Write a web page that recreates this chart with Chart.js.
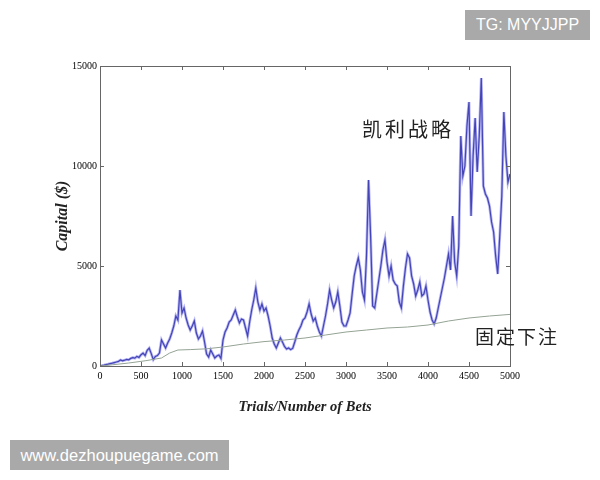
<!DOCTYPE html>
<html>
<head>
<meta charset="utf-8">
<script src="https://cdn.jsdelivr.net/npm/chart.js@4"></script>
<style>
  body { margin: 0; background: #fff; }
  #wrap { position: relative; width: 600px; height: 480px; }
  .tag { position: absolute; background: #a9a9a9; color: #fff; font-family: "Liberation Sans", Arial, sans-serif; font-size: 16px; line-height: 30px; text-align: center; }
  .note { position: absolute; font-family: "Noto Sans CJK SC", sans-serif; font-size: 20px; color: #222; letter-spacing: 3px; line-height: 1; white-space: nowrap; }
</style>
</head>
<body>
<div id="wrap">
  <canvas id="chart" width="600" height="480"></canvas>
  <div class="tag" style="left:465px;top:10px;width:125px;height:30px;">TG: MYYJJPP</div>
  <div class="tag" style="left:10px;top:440px;width:219px;height:30px;font-size:16.5px;">www.dezhoupuegame.com</div>
  <div class="note" style="left:362px;top:119px;">凯利战略</div>
  <div class="note" style="left:475px;top:326px;font-size:19px;letter-spacing:2px;">固定下注</div>
</div>
<script>
// data
const trials = [
  0, 25, 50, 75, 100, 125, 150, 175, 200, 225, 250, 275, 300, 325, 350, 375, 400, 425, 450, 475,
  500, 525, 550, 575, 600, 625, 650, 675, 700, 725, 750, 775, 800, 825, 850, 875, 900, 925, 950, 975,
  1000, 1025, 1050, 1075, 1100, 1125, 1150, 1175, 1200, 1225, 1250, 1275, 1300, 1325, 1350, 1375, 1400, 1425, 1450, 1475,
  1500, 1525, 1550, 1575, 1600, 1625, 1650, 1675, 1700, 1725, 1750, 1775, 1800, 1825, 1850, 1875, 1900, 1925, 1950, 1975,
  2000, 2025, 2050, 2075, 2100, 2125, 2150, 2175, 2200, 2225, 2250, 2275, 2300, 2325, 2350, 2375, 2400, 2425, 2450, 2475,
  2500, 2525, 2550, 2575, 2600, 2625, 2650, 2675, 2700, 2725, 2750, 2775, 2800, 2825, 2850, 2875, 2900, 2925, 2950, 2975,
  3000, 3025, 3050, 3075, 3100, 3125, 3150, 3175, 3200, 3225, 3250, 3275, 3300, 3325, 3350, 3375, 3400, 3425, 3450, 3475,
  3500, 3525, 3550, 3575, 3600, 3625, 3650, 3675, 3700, 3725, 3750, 3775, 3800, 3825, 3850, 3875, 3900, 3925, 3950, 3975,
  4000, 4025, 4050, 4075, 4100, 4125, 4150, 4175, 4200, 4225, 4250, 4275, 4300, 4325, 4350, 4375, 4400, 4425, 4450, 4475,
  4500, 4525, 4550, 4575, 4600, 4625, 4650, 4675, 4700, 4725, 4750, 4775, 4800, 4825, 4850, 4875, 4900, 4925, 4950, 4975,
  5000
];
const kelly = [
  0, 20, 40, 70, 90, 120, 140, 170, 200, 230, 300, 260, 290, 330, 310, 380, 420, 390, 480, 430,
  560, 640, 520, 780, 890, 620, 320, 480, 520, 650, 1300, 1100, 900, 1150, 1350, 1650, 2000, 2500, 2300, 3800,
  2650, 2900, 2400, 2050, 1800, 2000, 2250, 1650, 1350, 1500, 1750, 1200, 600, 450, 800, 600, 400, 500, 550, 380,
  1300, 1700, 1900, 2200, 2300, 2550, 2800, 2450, 2150, 2350, 2300, 1900, 1500, 2200, 2800, 3300, 3900, 3200, 2800, 3100,
  2750, 2900, 2500, 2000, 1400, 1100, 900, 1150, 1400, 1200, 980, 850, 900, 820, 880, 1200, 1550, 1800, 2000, 2300,
  2400, 2700, 3100, 2600, 2250, 2400, 2000, 1700, 1500, 2000, 2500, 3100, 3800, 3300, 2900, 3200, 3700, 3000, 2200, 2000,
  2000, 2300, 2650, 3600, 4500, 5000, 5400, 4800, 3700, 3300, 5500, 9300, 6500, 3000, 2900, 3600, 4300, 5000, 5800, 6300,
  5200, 4500, 5000, 4300, 4100, 4000, 3200, 2900, 4000, 4900, 5600, 5400, 4500, 4100, 3500, 3800, 4200, 3500, 3600, 4000,
  3300, 2700, 2300, 2100, 2400, 2900, 3400, 3900, 4400, 5000, 5600, 4800, 7500, 5200, 4500, 6000, 11500, 9500, 10000, 12000,
  13200, 7500, 10500, 12400, 9700, 11500, 14400, 9000, 8600, 8400, 8000, 7200, 6700, 5500, 4600, 6500, 8500, 12700, 10500, 9200,
  9600
];
const fixedTrials = [0, 150, 350, 550, 750, 850, 950, 1100, 1300, 1500, 1750, 2000, 2250, 2500, 2750, 3000, 3250, 3500, 3750, 4000, 4250, 4500, 4750, 5000];
const fixedBet = [0, 60, 150, 260, 400, 650, 800, 820, 860, 950, 1100, 1220, 1300, 1400, 1550, 1700, 1800, 1900, 1950, 2050, 2250, 2400, 2500, 2580];
const xTicks = [0, 500, 1000, 1500, 2000, 2500, 3000, 3500, 4000, 4500, 5000];
const yTicks = [0, 5000, 10000, 15000];

const kellyPts = trials.map((t, i) => ({ x: t, y: kelly[i] }));
const fixedPts = fixedTrials.map((t, i) => ({ x: t, y: fixedBet[i] }));

// box around the plot and inward tick marks (matlab look)
const frame = {
  id: 'frame',
  afterDatasetsDraw(chart) {
    const { ctx, chartArea: a, scales: { x, y } } = chart;
    ctx.save();
    ctx.strokeStyle = '#666';
    ctx.lineWidth = 1;
    ctx.strokeRect(a.left + 0.5, a.top + 0.5, a.right - a.left, a.bottom - a.top);
    ctx.beginPath();
    xTicks.forEach(v => {
      const px = Math.round(x.getPixelForValue(v)) + 0.5;
      ctx.moveTo(px, a.bottom); ctx.lineTo(px, a.bottom - 4);
      ctx.moveTo(px, a.top); ctx.lineTo(px, a.top + 4);
    });
    yTicks.forEach(v => {
      const py = Math.round(y.getPixelForValue(v)) + 0.5;
      ctx.moveTo(a.left, py); ctx.lineTo(a.left + 4, py);
      ctx.moveTo(a.right, py); ctx.lineTo(a.right - 4, py);
    });
    ctx.stroke();
    ctx.restore();
  }
};

const tickFont = { family: 'Liberation Serif', size: 10 };

new Chart(document.getElementById('chart'), {
  type: 'line',
  data: {
    datasets: [
      { data: fixedPts, borderColor: '#94a394', borderWidth: 1, pointRadius: 0 },
      { data: kellyPts, borderColor: 'rgba(110,110,235,0.5)', borderWidth: 2.8, pointRadius: 0 },
      { data: kellyPts, borderColor: '#1a1a80', borderWidth: 1.2, pointRadius: 0 }
    ]
  },
  options: {
    responsive: false,
    animation: false,
    layout: { padding: { left: 52, right: 90, top: 66, bottom: 64 } },
    plugins: { legend: { display: false }, tooltip: { enabled: false } },
    scales: {
      x: {
        type: 'linear', min: 0, max: 5000,
        afterBuildTicks: s => { s.ticks = xTicks.map(v => ({ value: v })); },
        afterFit: s => { s.height = 50; },
        ticks: { font: tickFont, color: '#000', padding: 4, maxRotation: 0, autoSkip: false, callback: v => String(v) },
        grid: { display: false, drawTicks: false },
        border: { color: '#666' },
        title: { display: true, text: 'Trials/Number of Bets', font: { family: 'Liberation Serif', size: 14.5, style: 'italic', weight: 'bold' }, color: '#222', padding: { top: 2, bottom: 0 } }
      },
      y: {
        min: 0, max: 15000,
        afterBuildTicks: s => { s.ticks = yTicks.map(v => ({ value: v })); },
        afterFit: s => { s.width = 48; },
        ticks: { font: tickFont, color: '#000', padding: 3, callback: v => String(v) },
        grid: { display: false, drawTicks: false },
        border: { color: '#666' },
        title: { display: true, text: 'Capital ($)', font: { family: 'Liberation Serif', size: 16, style: 'italic', weight: 'bold' }, color: '#222', padding: { top: 1, bottom: 0 } }
      }
    }
  },
  plugins: [frame]
});
</script>
</body>
</html>
